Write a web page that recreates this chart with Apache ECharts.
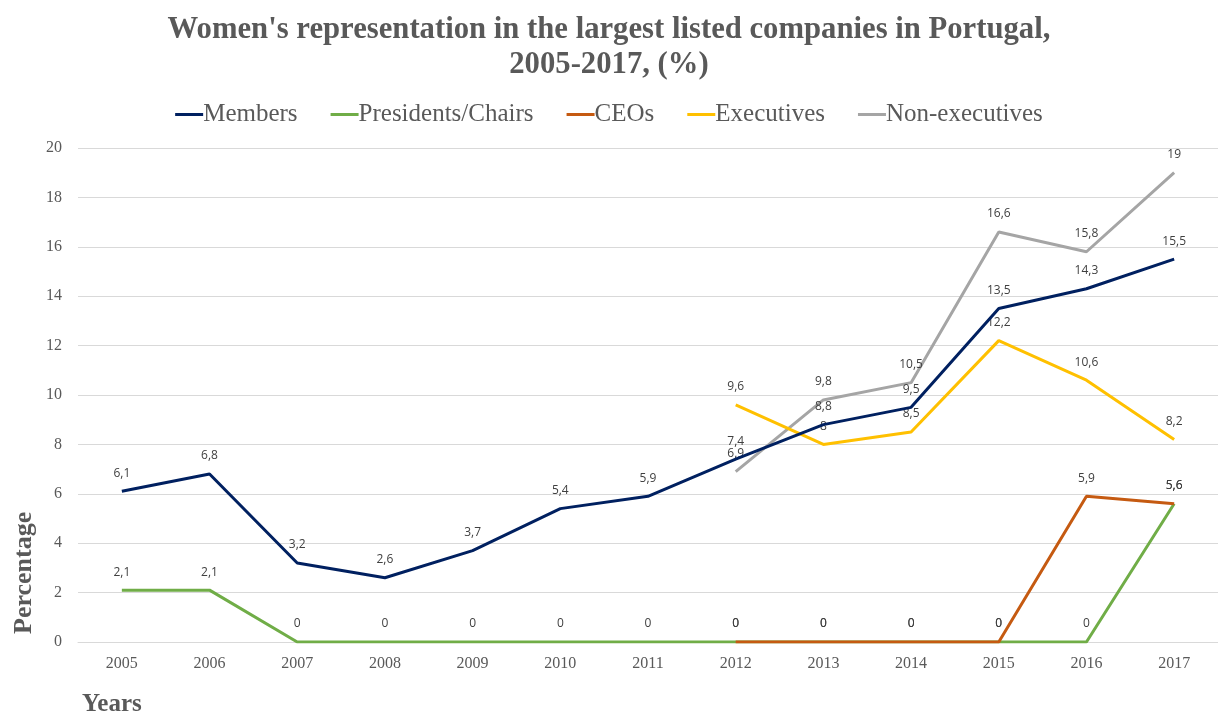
<!DOCTYPE html>
<html>
<head>
<meta charset="utf-8">
<script src="https://cdn.jsdelivr.net/npm/echarts@6/dist/echarts.min.js"></script>
<style>html,body{margin:0;padding:0;background:#fff}#c{width:1218px;height:718px}</style>
</head>
<body>
<div id="c"></div>
<script>
const years = ['2005','2006','2007','2008','2009','2010','2011','2012','2013','2014','2015','2016','2017'];
const members = [6.1, 6.8, 3.2, 2.6, 3.7, 5.4, 5.9, 7.4, 8.8, 9.5, 13.5, 14.3, 15.5];
const presidents = [2.1, 2.1, 0, 0, 0, 0, 0, 0, 0, 0, 0, 0, 5.6];
const ceos = [null, null, null, null, null, null, null, 0, 0, 0, 0, 5.9, 5.6];
const executives = [null, null, null, null, null, null, null, 9.6, 8, 8.5, 12.2, 10.6, 8.2];
const nonExecutives = [null, null, null, null, null, null, null, 6.9, 9.8, 10.5, 16.6, 15.8, 19];
const yTicks = [0, 2, 4, 6, 8, 10, 12, 14, 16, 18, 20];

const serif = '"Liberation Serif", "Times New Roman", serif';
const fmt = p => String(p.value).replace('.', ',');
function mk(name, data, color, z) {
  return {
    name, type: 'line', data, z,
    symbol: 'circle', symbolSize: 0, showSymbol: true,
    lineStyle: { color, width: 3 },
    itemStyle: { color },
    label: { show: true, position: 'top', distance: 12, formatter: fmt,
      fontFamily: '"Open Sans", sans-serif', fontSize: 12, color: '#404040' },
    emphasis: { disabled: true },
    connectNulls: false
  };
}
const chart = echarts.init(document.getElementById('c'), null, { renderer: 'canvas' });
chart.setOption({
  animation: false,
  backgroundColor: '#fff',
  title: {
    text: "Women's representation in the largest listed companies in Portugal,\n2005-2017, (%)",
    left: 'center', top: 8,
    textStyle: { fontFamily: serif, fontWeight: 'bold', fontSize: 30.7, color: '#595959', lineHeight: 35 }
  },
  legend: {
    top: 97, left: 'center',
    icon: 'rect', itemWidth: 28, itemHeight: 3, itemGap: 33,
    itemStyle: { opacity: 1 },
    textStyle: { fontFamily: serif, fontSize: 25, color: '#595959', padding: [0, 0, 0, -5] },
    data: ['Members', 'Presidents/Chairs', 'CEOs', 'Executives', 'Non-executives']
  },
  grid: { left: 78, top: 148, width: 1144, height: 494, containLabel: false },
  xAxis: {
    type: 'category', data: years, boundaryGap: true,
    axisLine: { show: true, lineStyle: { color: '#d9d9d9', width: 1 } },
    axisTick: { show: false },
    axisLabel: { fontFamily: serif, fontSize: 16, color: '#595959', margin: 14 }
  },
  yAxis: {
    type: 'value', min: yTicks[0], max: yTicks[yTicks.length - 1], interval: 2,
    axisLine: { show: false }, axisTick: { show: false },
    splitLine: { lineStyle: { color: '#d9d9d9', width: 1 } },
    axisLabel: { fontFamily: serif, fontSize: 16, color: '#595959', margin: 16 }
  },
  graphic: [
    { type: 'text', left: 82, top: 692,
      style: { text: 'Years', fontFamily: serif, fontWeight: 'bold', fontSize: 25, fill: '#595959' } },
    { type: 'text', x: 11, y: 634, rotation: Math.PI / 2,
      style: { text: 'Percentage', fontFamily: serif, fontWeight: 'bold', fontSize: 26, fill: '#595959', textVerticalAlign: 'top' } }
  ],
  series: [
    mk('Members', members, '#002060', 5),
    mk('Presidents/Chairs', presidents, '#70AD47', 4),
    mk('CEOs', ceos, '#C55A11', 6),
    mk('Executives', executives, '#FFC000', 3),
    mk('Non-executives', nonExecutives, '#A5A5A5', 2)
  ]
});
</script>
</body>
</html>
